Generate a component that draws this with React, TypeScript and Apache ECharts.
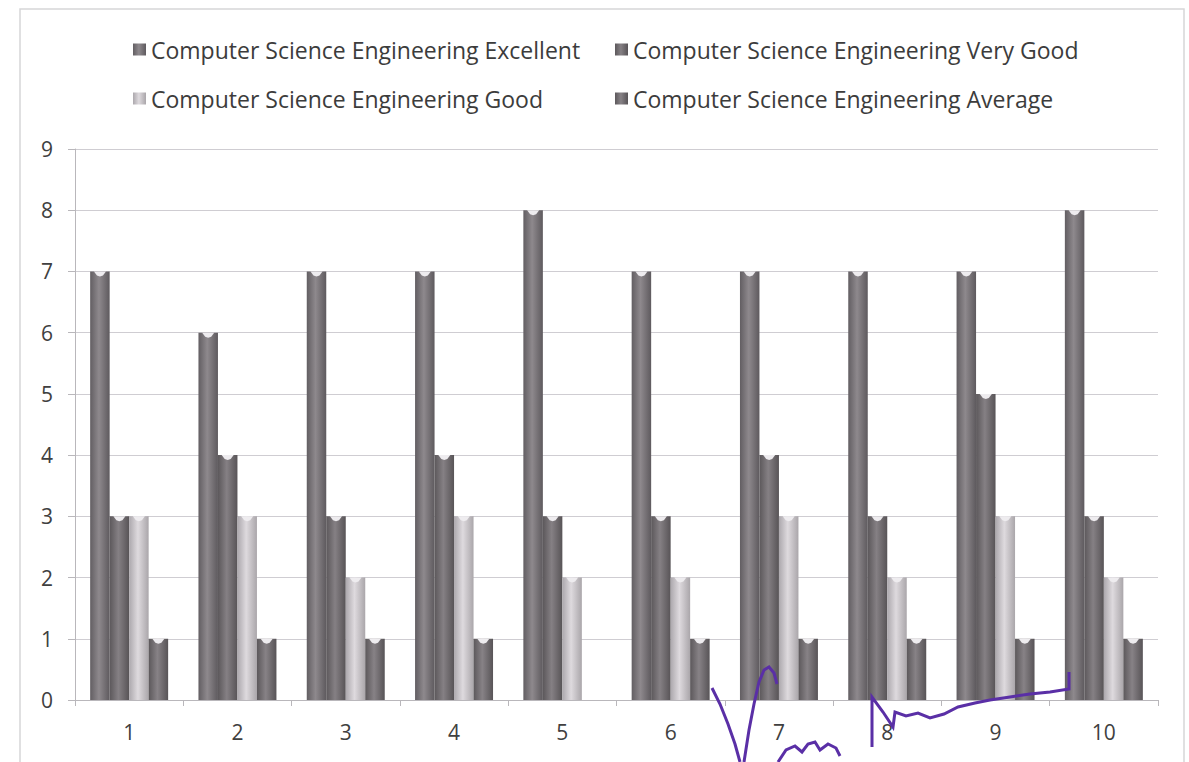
import React, { useEffect, useRef } from "react";
import * as echarts from "echarts";

const categories = ["1", "2", "3", "4", "5", "6", "7", "8", "9", "10"];
const seriesNames = [
  "Computer Science Engineering Excellent",
  "Computer Science Engineering Very Good",
  "Computer Science Engineering Good",
  "Computer Science Engineering Average",
];
const excellent = [7, 6, 7, 7, 8, 7, 7, 7, 7, 8];
const veryGood = [3, 4, 3, 4, 3, 3, 4, 3, 5, 3];
const good = [3, 3, 2, 3, 2, 2, 3, 2, 3, 2];
const average = [1, 1, 1, 1, 0, 1, 1, 1, 1, 1];
const yTicks = [0, 1, 2, 3, 4, 5, 6, 7, 8, 9];

const palettes = [
  ["#625e62", "#8e898d", "#5e5a5e"],
  ["#5c585b", "#858084", "#585457"],
  ["#aca8ad", "#dedade", "#aaa6aa"],
  ["#5c585b", "#878286", "#585457"],
];

function grad(p: string[]) {
  return new echarts.graphic.LinearGradient(0, 0, 1, 0, [
    { offset: 0, color: p[0] },
    { offset: 0.45, color: p[1] },
    { offset: 1, color: p[2] },
  ]);
}

export default function App() {
  const ref = useRef<HTMLDivElement>(null);
  useEffect(() => {
    const chart = echarts.init(ref.current!, null, { renderer: "svg" });
    const all = [excellent, veryGood, good, average];
    const font = "'Open Sans', sans-serif";
    const legendPos = [
      { left: 133, top: 38 },
      { left: 615, top: 38 },
      { left: 133, top: 87 },
      { left: 615, top: 87 },
    ];
    const barSeries: any[] = all.map((d, k) => ({
      name: seriesNames[k],
      type: "bar",
      data: d,
      barWidth: "18%",
      barGap: "0%",
      itemStyle: { color: grad(palettes[k]) },
    }));
    const capSeries: any[] = all.map((d, k) => ({
      type: "custom",
      data: d.map((v, i) => [i, v]),
      z: 5,
      silent: true,
      renderItem: (params: any, api: any) => {
        const v = api.value(1);
        if (!v) return null;
        const p = api.coord([api.value(0), v]);
        const bw = api.size([1, 0])[0];
        const w = bw * 0.18;
        const cx = p[0] - 2 * w + k * w + w / 2;
        return {
          type: "polygon",
          shape: {
            points: [
              [cx - 6, p[1]],
              [cx + 6, p[1]],
              [cx + 3, p[1] + 4],
              [cx, p[1] + 5],
              [cx - 3, p[1] + 4],
            ],
          },
          style: { fill: "#eeecef" },
        };
      },
    }));
    const purple = "#5a2fa6";
    chart.setOption({
      animation: false,
      backgroundColor: "#ffffff",
      legend: seriesNames.map((n, k) => ({
        data: [n],
        left: legendPos[k].left,
        top: legendPos[k].top,
        padding: 0,
        itemWidth: 13,
        itemHeight: 12,
        icon: "rect",
        selectedMode: false,
        textStyle: { fontFamily: font, fontSize: 23, color: "#3c3c3c" },
      })),
      grid: { left: 75, right: 31, top: 149, bottom: 62 },
      xAxis: {
        type: "category",
        data: categories,
        axisLine: { lineStyle: { color: "#b9b7bb" } },
        axisTick: { show: true, length: 6, lineStyle: { color: "#b9b7bb" } },
        axisLabel: { margin: 21, fontFamily: font, fontSize: 21, color: "#404040" },
      },
      yAxis: {
        type: "value",
        min: 0,
        max: 9,
        interval: 1,
        axisLine: { show: true, lineStyle: { color: "#b9b7bb" } },
        axisTick: { show: true, length: 7, lineStyle: { color: "#b9b7bb" } },
        axisLabel: {
          margin: 22,
          fontFamily: font,
          fontSize: 21,
          color: "#404040",
          formatter: (v: number) => (yTicks.includes(v) ? String(v) : ""),
        },
        splitLine: { lineStyle: { color: "#cfcdd2" } },
      },
      graphic: [
        {
          type: "rect",
          z: -10,
          shape: { x: 20, y: 9, width: 1164, height: 800 },
          style: { fill: "none", stroke: "#d6d6d8", lineWidth: 1.5 },
        },
        {
          type: "polyline",
          z: 100,
          shape: {
            points: [
              [712, 688], [720, 704], [728, 724], [735, 744], [740, 762],
            ],
          },
          style: { stroke: purple, lineWidth: 3, fill: "none" },
        },
        {
          type: "polyline",
          z: 100,
          shape: {
            points: [
              [744, 762], [749, 730], [754, 704], [759, 682], [764, 670], [769, 667], [774, 673], [777, 684],
            ],
          },
          style: { stroke: purple, lineWidth: 3, fill: "none" },
        },
        {
          type: "polyline",
          z: 100,
          shape: {
            points: [
              [778, 762], [786, 750], [795, 746], [802, 752], [808, 744], [815, 742], [820, 750], [828, 744], [836, 748], [840, 756],
            ],
          },
          style: { stroke: purple, lineWidth: 3, fill: "none" },
        },
        {
          type: "polyline",
          z: 100,
          shape: {
            points: [
              [872, 747], [872, 720], [872, 697], [883, 712], [893, 727], [895, 712], [906, 716], [918, 713], [930, 718], [944, 714], [958, 707], [975, 703], [990, 700], [1010, 697], [1030, 694], [1050, 692], [1069, 689], [1069, 672],
            ],
          },
          style: { stroke: purple, lineWidth: 3, fill: "none" },
        },
      ],
      series: [...barSeries, ...capSeries],
    });
    return () => chart.dispose();
  }, []);
  return (
    <div
      ref={ref}
      style={{ position: "fixed", left: 0, top: 0, width: 1189, height: 762, background: "#fff" }}
    />
  );
}
